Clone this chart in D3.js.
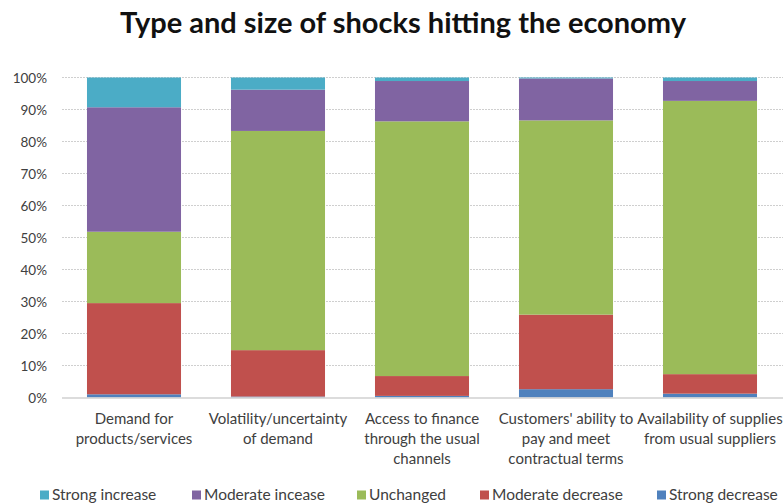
<!DOCTYPE html>
<html><head><meta charset="utf-8">
<script src="https://cdn.jsdelivr.net/npm/d3@7"></script>
<style>body{margin:0;background:#fff}svg{display:block}</style>
</head><body>
<script>
const categories = [
  ["Demand for", "products/services"],
  ["Volatility/uncertainty", "of demand"],
  ["Access to finance", "through the usual", "channels"],
  ["Customers' ability to", "pay and meet", "contractual terms"],
  ["Availability of supplies", "from usual suppliers"]
];
const seriesNames = ["Strong decrease", "Moderate decrease", "Unchanged", "Moderate incease", "Strong increase"];
const strongDecrease   = [1.0, 0.3, 0.5, 2.6, 1.2];
const moderateDecrease = [28.5, 14.5, 6.2, 23.3, 6.1];
const unchanged        = [22.3, 68.5, 79.6, 60.7, 85.4];
const moderateIncrease = [38.9, 12.9, 12.6, 13.1, 6.2];
const strongIncrease   = [9.3, 3.8, 1.1, 0.3, 1.1];
const yTicks = [0, 10, 20, 30, 40, 50, 60, 70, 80, 90, 100];
const legendOrder = ["Strong increase", "Moderate incease", "Unchanged", "Moderate decrease", "Strong decrease"];

const colors = {
  "Strong increase": "#4bacc6",
  "Moderate incease": "#8064a2",
  "Unchanged": "#9bbb59",
  "Moderate decrease": "#c0504d",
  "Strong decrease": "#4f81bd"
};

const W = 784, H = 504;
const svg = d3.select("body").append("svg").attr("width", W).attr("height", H);
const font = "Lato, 'Open Sans', sans-serif";

const values = [strongDecrease, moderateDecrease, unchanged, moderateIncrease, strongIncrease];
const rows = categories.map((c, i) => {
  const r = {idx: i};
  seriesNames.forEach((s, j) => r[s] = values[j][i]);
  return r;
});
const stack = d3.stack().keys(seriesNames)(rows);

const x = d3.scaleBand().domain(d3.range(categories.length)).range([62, 782]).paddingInner(0.347).paddingOuter(0.1735);
const y = d3.scaleLinear().domain([0, 100]).range([397.5, 77.5]);

// grid
svg.append("g").selectAll("line").data(yTicks.filter(d => d > 0)).join("line")
  .attr("x1", 62).attr("x2", 783)
  .attr("y1", d => y(d)).attr("y2", d => y(d))
  .attr("stroke", "#cfcfcf").attr("stroke-width", 1).attr("stroke-dasharray", "2,1");

// bars
svg.append("g").selectAll("g").data(stack).join("g")
  .attr("fill", d => colors[d.key])
  .selectAll("rect").data(d => d).join("rect")
  .attr("x", d => x(d.data.idx))
  .attr("width", x.bandwidth())
  .attr("y", d => y(d[1]))
  .attr("height", d => y(d[0]) - y(d[1]));

// x axis line
svg.append("line").attr("x1", 62).attr("x2", 783).attr("y1", y(0) + 0.5).attr("y2", y(0) + 0.5)
  .attr("stroke", "#d0d0d0").attr("stroke-width", 1.5);

// y axis labels
const yAxis = d3.axisLeft(y).tickValues(yTicks).tickFormat(d => d + "%").tickSize(0).tickPadding(0);
const ga = svg.append("g").attr("transform", "translate(47,0)").call(yAxis);
ga.select(".domain").remove();
ga.selectAll("text").attr("font-family", font).attr("font-size", 13.5).attr("fill", "#404040").attr("dy", "0.35em");

// category labels
const cl = svg.append("g").selectAll("text").data(categories).join("text")
  .attr("x", (d, i) => x(i) + x.bandwidth() / 2)
  .attr("y", 424)
  .attr("text-anchor", "middle")
  .attr("font-family", font).attr("font-size", 15).attr("fill", "#404040");
cl.selectAll("tspan").data(d => d).join("tspan")
  .attr("x", function () { return this.parentNode.getAttribute("x"); })
  .attr("dy", (d, i) => i === 0 ? 0 : 20)
  .text(d => d);

// title
svg.append("text").attr("x", 403).attr("y", 33).attr("text-anchor", "middle")
  .attr("font-family", font).attr("font-weight", "bold").attr("font-size", 29).attr("fill", "#111")
  .text("Type and size of shocks hitting the economy");

// legend
const legX = [40, 192, 357, 480, 657];
const lg = svg.append("g").selectAll("g").data(legendOrder).join("g")
  .attr("transform", (d, i) => `translate(${legX[i]},495)`);
lg.append("rect").attr("x", 0).attr("y", -4.5).attr("width", 9).attr("height", 9).attr("fill", d => colors[d]);
lg.append("text").attr("x", 12).attr("y", 0).attr("dy", "0.35em")
  .attr("font-family", font).attr("font-size", 15.5).attr("fill", "#404040").text(d => d);
</script>
</body></html>
